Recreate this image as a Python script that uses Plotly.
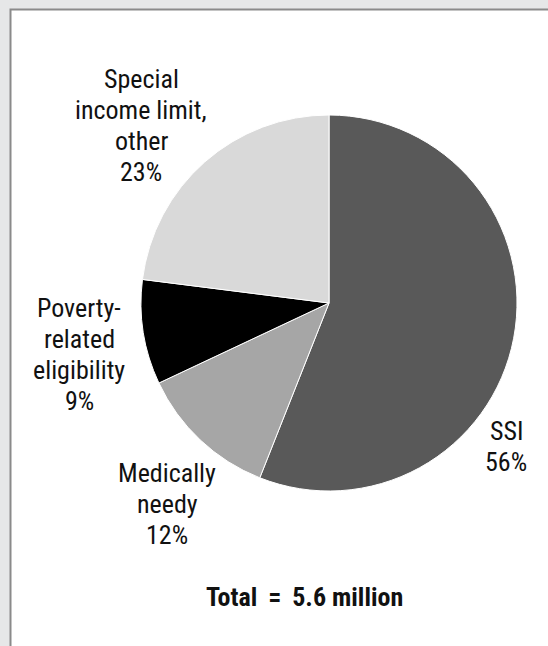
import plotly.graph_objects as go

# Medicaid eligibility groups, share of enrollees (percent)
groups = ["SSI", "Medically needy", "Poverty-related eligibility", "Special income limit, other"]
label_lines = [
    ["SSI"],
    ["Medically", "needy"],
    ["Poverty-", "related", "eligibility"],
    ["Special", "income limit,", "other"],
]
shares = [56, 12, 9, 23]
slice_colors = ["#595959", "#a6a6a6", "#000000", "#d9d9d9"]
total_millions = 5.6

W, H = 548, 646
FONT = ("Roboto Condensed, Noto Sans Condensed, Liberation Sans Narrow, "
        "DejaVu Sans Condensed, sans-serif")

# pie placement in pixels
cx, cy, r = 329, 303, 188

fig = go.Figure(
    go.Pie(
        labels=groups,
        values=shares,
        sort=False,
        direction="clockwise",
        rotation=0,
        marker=dict(colors=slice_colors, line=dict(color="white", width=1)),
        textinfo="none",
        hoverinfo="label+percent",
        showlegend=False,
        domain=dict(
            x=[(cx - r) / W, (cx + r) / W],
            y=[(H - cy - r) / H, (H - cy + r) / H],
        ),
    )
)

# label anchor (centre x, first-line y) in pixels for each slice
label_pos = [(506, 431), (167, 473), (79, 308), (141, 79)]
line_step = 31

annotations = []
for lines, share, (lx, ly) in zip(label_lines, shares, label_pos):
    for i, txt in enumerate(lines + [f"{share}%"]):
        annotations.append(dict(
            x=lx / W, y=1 - (ly + i * line_step) / H,
            xref="paper", yref="paper",
            text=txt, showarrow=False,
            xanchor="center", yanchor="middle",
            font=dict(family=FONT, size=26, color="#111111"),
        ))

annotations.append(dict(
    x=304 / W, y=1 - 597 / H, xref="paper", yref="paper",
    text=f"<b>Total \u2009=\u2009 {total_millions} million</b>", showarrow=False,
    xanchor="center", yanchor="middle",
    font=dict(family=FONT, size=26, color="#111111"),
))

fig.update_layout(
    width=W, height=H,
    margin=dict(l=0, r=0, t=0, b=0),
    paper_bgcolor="#e6e7e8",
    plot_bgcolor="#e6e7e8",
    annotations=annotations,
    shapes=[dict(
        type="rect", xref="paper", yref="paper", layer="below",
        x0=10.5 / W, x1=(W + 10) / W, y0=-10 / H, y1=1 - 9.5 / H,
        fillcolor="white", line=dict(color="#8a8a8a", width=2),
    )],
)

fig.write_html("out.html")
